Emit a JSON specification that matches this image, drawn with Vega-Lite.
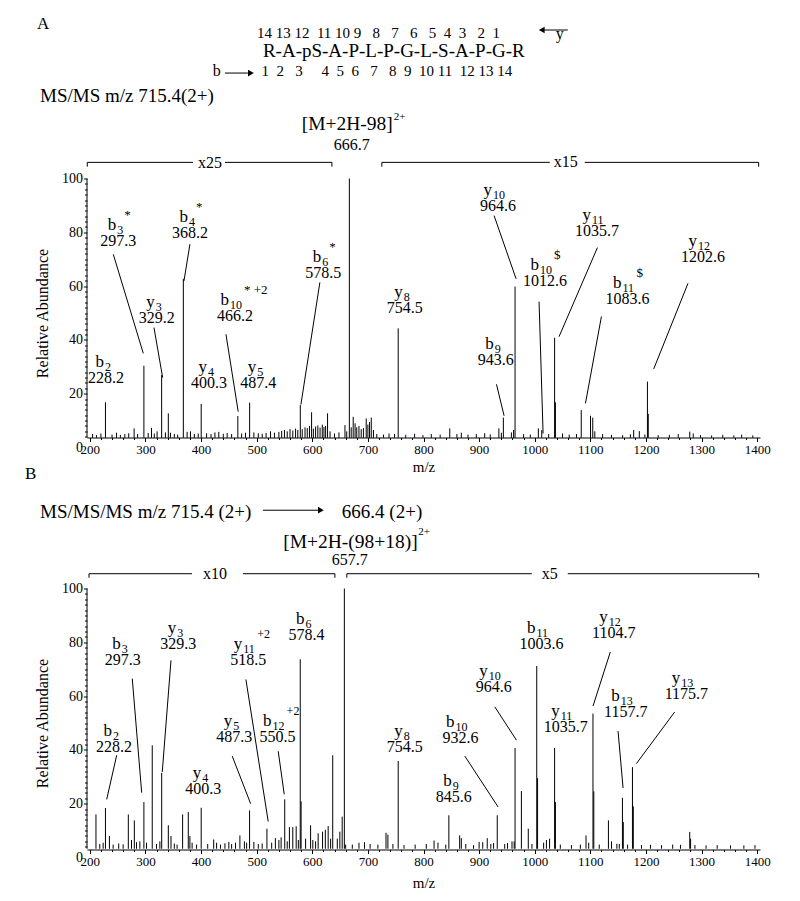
{
"$schema":"https://vega.github.io/schema/vega-lite/v6.json",
"padding":{"left":25,"top":14.5,"right":5,"bottom":5},
"config":{"font":"Liberation Serif","view":{"stroke":null},"mark":{"color":"black"},
"axis":{"grid":false,"domainColor":"black","tickColor":"black","labelColor":"black","titleColor":"black","titleFontWeight":"normal","labelFont":"Liberation Serif","titleFont":"Liberation Serif","domainWidth":1,"tickWidth":1},
"text":{"color":"black"},"rule":{"color":"black"},"point":{"color":"black"}},
"datasets":{
"pkA":[{"mz":228.2,"ab":16.8},{"mz":297.3,"ab":30.4},{"mz":329.2,"ab":26.9},{"mz":341.2,"ab":12.7},{"mz":368.2,"ab":62.7},{"mz":400.3,"ab":16.2},{"mz":466.2,"ab":11.7},{"mz":487.4,"ab":16.7},{"mz":578.5,"ab":15.8},{"mz":598.8,"ab":13.1},{"mz":627.5,"ab":12.7},{"mz":658.8,"ab":8.3},{"mz":666.7,"ab":100},{"mz":673.6,"ab":11.4},{"mz":697,"ab":10.8},{"mz":706.1,"ab":11.1},{"mz":279.7,"ab":7.1},{"mz":311,"ab":7.3},{"mz":754.5,"ab":44.3},{"mz":943.6,"ab":11.1},{"mz":935.5,"ab":7.1},{"mz":964.6,"ab":59.8},{"mz":1006.5,"ab":7.1},{"mz":1012.6,"ab":6.5},{"mz":1035.7,"ab":40.8},{"mz":1037.2,"ab":16.8},{"mz":1083.6,"ab":13.9},{"mz":1100.3,"ab":11.8},{"mz":1104.3,"ab":11.1},{"mz":1202.6,"ab":24.5},{"mz":1204.1,"ab":12.5},{"mz":1177.9,"ab":6.5},{"mz":1188,"ab":6.1},{"mz":847.2,"ab":7.1},{"mz":1278.7,"ab":5.9},
{"mz":205,"ab":5.0},{"mz":212,"ab":4.6},{"mz":220,"ab":5.2},{"mz":240,"ab":4.8},{"mz":248,"ab":5.5},{"mz":255,"ab":4.7},{"mz":263,"ab":5.0},{"mz":270,"ab":5.3},{"mz":286,"ab":5.0},{"mz":305,"ab":5.4},{"mz":316,"ab":5.2},{"mz":321,"ab":6.0},{"mz":336,"ab":5.6},{"mz":345,"ab":5.5},{"mz":352,"ab":5.0},{"mz":358,"ab":4.8},{"mz":375,"ab":5.8},{"mz":381,"ab":6.0},{"mz":388,"ab":5.0},{"mz":395,"ab":5.2},{"mz":410,"ab":5.3},{"mz":418,"ab":5.0},{"mz":425,"ab":5.6},{"mz":432,"ab":5.8},{"mz":440,"ab":5.1},{"mz":447,"ab":5.4},{"mz":455,"ab":5.0},{"mz":473,"ab":5.2},{"mz":480,"ab":5.5},{"mz":495,"ab":5.6},{"mz":503,"ab":5.3},{"mz":510,"ab":5.1},{"mz":517,"ab":5.4},{"mz":525,"ab":6.0},{"mz":532,"ab":5.5},{"mz":540,"ab":5.8},{"mz":545,"ab":6.2},{"mz":550,"ab":6.5},{"mz":555,"ab":6.0},{"mz":560,"ab":6.8},{"mz":565,"ab":6.3},{"mz":570,"ab":7.0},{"mz":574,"ab":6.5},{"mz":582,"ab":6.8},{"mz":587,"ab":7.5},{"mz":591,"ab":7.2},{"mz":595,"ab":8.0},{"mz":602,"ab":7.0},{"mz":606,"ab":7.8},{"mz":610,"ab":8.2},{"mz":614,"ab":7.4},{"mz":618,"ab":8.5},{"mz":621,"ab":7.6},{"mz":624,"ab":8.0},{"mz":632,"ab":6.0},{"mz":640,"ab":5.2},{"mz":648,"ab":5.6},{"mz":662,"ab":6.0},{"mz":670,"ab":7.5},{"mz":677,"ab":9.0},{"mz":680,"ab":7.5},{"mz":684,"ab":8.0},{"mz":688,"ab":6.8},{"mz":692,"ab":7.2},{"mz":700,"ab":8.5},{"mz":703,"ab":9.5},{"mz":710,"ab":6.5},{"mz":716,"ab":5.0},{"mz":728,"ab":4.8},{"mz":738,"ab":5.2},{"mz":748,"ab":5.0},{"mz":768,"ab":4.7},{"mz":784,"ab":5.1},{"mz":799,"ab":4.6},{"mz":814,"ab":5.0},{"mz":830,"ab":4.8},{"mz":860,"ab":5.0},{"mz":868,"ab":5.5},{"mz":880,"ab":4.8},{"mz":895,"ab":5.0},{"mz":910,"ab":5.3},{"mz":920,"ab":4.9},{"mz":940,"ab":5.5},{"mz":958,"ab":5.6},{"mz":962,"ab":6.5},{"mz":980,"ab":5.0},{"mz":992,"ab":4.8},{"mz":1025,"ab":5.0},{"mz":1050,"ab":5.2},{"mz":1062,"ab":4.8},{"mz":1075,"ab":5.0},{"mz":1108,"ab":6.0},{"mz":1122,"ab":5.0},{"mz":1138,"ab":4.7},{"mz":1158,"ab":4.6},{"mz":1172,"ab":4.9},{"mz":1198,"ab":4.8},{"mz":1222,"ab":4.6},{"mz":1242,"ab":4.7},{"mz":1258,"ab":5.0},{"mz":1285,"ab":5.2},{"mz":1298,"ab":4.6},{"mz":1318,"ab":4.5},{"mz":1338,"ab":4.7},{"mz":1358,"ab":4.5},{"mz":1372,"ab":4.8},{"mz":1392,"ab":4.5}],
"pkB":[{"mz":211.1,"ab":16.0},{"mz":228.2,"ab":18.4},{"mz":235.3,"ab":8.0},{"mz":269.3,"ab":16.0},{"mz":280.1,"ab":13.8},{"mz":284,"ab":5.7},{"mz":297.3,"ab":20.6},{"mz":312.3,"ab":41.7},{"mz":329.3,"ab":31.5},{"mz":341.2,"ab":12.0},{"mz":346,"ab":8.0},{"mz":366.9,"ab":16.0},{"mz":377.1,"ab":16.9},{"mz":380,"ab":8.0},{"mz":400.3,"ab":18.5},{"mz":422.8,"ab":6.7},{"mz":469.9,"ab":8.2},{"mz":487.3,"ab":17.5},{"mz":518.5,"ab":10.7},{"mz":533.7,"ab":7.2},{"mz":550.5,"ab":21.6},{"mz":558.9,"ab":11.3},{"mz":565,"ab":11.3},{"mz":571.1,"ab":11.6},{"mz":578.4,"ab":73.7},{"mz":579.9,"ab":20.9},{"mz":597,"ab":12.0},{"mz":610.6,"ab":9.0},{"mz":618.5,"ab":9.6},{"mz":623.5,"ab":10.3},{"mz":628.6,"ab":11.7},{"mz":636.8,"ab":38.0},{"mz":649.6,"ab":9.6},{"mz":653.8,"ab":15.2},{"mz":657.7,"ab":100},{"mz":694,"ab":5.7},{"mz":732.6,"ab":9.2},{"mz":736,"ab":8.5},{"mz":754.5,"ab":35.9},{"mz":819,"ab":6.3},{"mz":845.6,"ab":15.7},{"mz":865,"ab":8.2},{"mz":868,"ab":7.2},{"mz":906.5,"ab":5.7},{"mz":914.6,"ab":7.2},{"mz":932.6,"ab":15.7},{"mz":951.1,"ab":5.4},{"mz":959.1,"ab":6.0},{"mz":964.6,"ab":40.7},{"mz":976,"ab":24.7},{"mz":988.4,"ab":10.7},{"mz":1003.6,"ab":71.2},{"mz":1005.1,"ab":29.5},{"mz":1026.7,"ab":7.0},{"mz":1035.7,"ab":40.7},{"mz":1037.2,"ab":20.6},{"mz":1092.2,"ab":8.2},{"mz":1104.7,"ab":53.5},{"mz":1106.2,"ab":24.6},{"mz":1132.5,"ab":13.8},{"mz":1147.7,"ab":5.1},{"mz":1157.7,"ab":22.2},{"mz":1159.2,"ab":13.2},{"mz":1175.7,"ab":33.6},{"mz":1177.2,"ab":19.0},{"mz":1278.7,"ab":9.5},{"mz":1280.2,"ab":7.0},
{"mz":218,"ab":5.0},{"mz":224,"ab":5.5},{"mz":242,"ab":4.8},{"mz":252,"ab":5.2},{"mz":260,"ab":4.9},{"mz":275,"ab":6.5},{"mz":290,"ab":6.0},{"mz":302,"ab":5.5},{"mz":320,"ab":5.0},{"mz":326,"ab":6.0},{"mz":352,"ab":5.2},{"mz":357,"ab":4.8},{"mz":384,"ab":5.5},{"mz":392,"ab":4.8},{"mz":412,"ab":5.0},{"mz":428,"ab":5.5},{"mz":435,"ab":4.8},{"mz":443,"ab":5.3},{"mz":450,"ab":5.8},{"mz":455,"ab":5.0},{"mz":462,"ab":5.5},{"mz":478,"ab":6.0},{"mz":482,"ab":5.5},{"mz":495,"ab":5.8},{"mz":503,"ab":5.0},{"mz":510,"ab":5.2},{"mz":527,"ab":5.5},{"mz":540,"ab":6.5},{"mz":544,"ab":7.5},{"mz":555,"ab":6.0},{"mz":575,"ab":6.5},{"mz":588,"ab":7.0},{"mz":601,"ab":6.5},{"mz":606,"ab":6.0},{"mz":633,"ab":7.0},{"mz":645,"ab":7.0},{"mz":660,"ab":4.8},{"mz":672,"ab":4.8},{"mz":684,"ab":5.5},{"mz":704,"ab":5.0},{"mz":718,"ab":4.8},{"mz":745,"ab":5.0},{"mz":765,"ab":4.6},{"mz":785,"ab":4.8},{"mz":805,"ab":5.0},{"mz":826,"ab":5.5},{"mz":840,"ab":4.8},{"mz":876,"ab":5.0},{"mz":890,"ab":4.6},{"mz":900,"ab":5.8},{"mz":921,"ab":5.0},{"mz":926,"ab":5.4},{"mz":946,"ab":5.0},{"mz":963,"ab":6.0},{"mz":995,"ab":5.0},{"mz":1016,"ab":5.5},{"mz":1021,"ab":6.5},{"mz":1046,"ab":4.8},{"mz":1066,"ab":4.6},{"mz":1082,"ab":4.8},{"mz":1097,"ab":5.5},{"mz":1116,"ab":4.8},{"mz":1138,"ab":6.0},{"mz":1152,"ab":5.0},{"mz":1167,"ab":4.8},{"mz":1192,"ab":4.6},{"mz":1208,"ab":4.7},{"mz":1228,"ab":4.6},{"mz":1248,"ab":4.8},{"mz":1262,"ab":4.7},{"mz":1288,"ab":4.6},{"mz":1308,"ab":4.5},{"mz":1328,"ab":4.6},{"mz":1352,"ab":4.5},{"mz":1376,"ab":4.5},{"mz":1396,"ab":4.6}],
"lbA":[{"lx":229.1,"ly":25.7,"n":"b","s":"2","p":"","v":"228.2"},{"lx":251.2,"ly":76.8,"n":"b","s":"3","p":"*","v":"297.3"},{"lx":320.3,"ly":48.0,"n":"y","s":"3","p":"","v":"329.2"},{"lx":380.1,"ly":79.9,"n":"b","s":"4","p":"*","v":"368.2"},{"lx":414.2,"ly":23.8,"n":"y","s":"4","p":"","v":"400.3"},{"lx":461.0,"ly":48.7,"n":"b","s":"10","p":"* +2","v":"466.2"},{"lx":502.8,"ly":23.8,"n":"y","s":"5","p":"","v":"487.4"},{"lx":619.6,"ly":64.8,"n":"b","s":"6","p":"*","v":"578.5"},{"lx":766.4,"ly":51.7,"n":"y","s":"8","p":"","v":"754.5"},{"lx":930.0,"ly":32.5,"n":"b","s":"9","p":"","v":"943.6"},{"lx":934.1,"ly":89.8,"n":"y","s":"10","p":"","v":"964.6"},{"lx":1018.6,"ly":61.9,"n":"b","s":"10","p":"$","v":"1012.6"},{"lx":1112.0,"ly":80.3,"n":"y","s":"11","p":"","v":"1035.7"},{"lx":1166.6,"ly":55.1,"n":"b","s":"11","p":"$","v":"1083.6"},{"lx":1302.5,"ly":71.0,"n":"y","s":"12","p":"","v":"1202.6"}],
"lbB":[{"lx":243.5,"ly":41.1,"n":"b","s":"2","p":"","v":"228.2"},{"lx":259.2,"ly":73.3,"n":"b","s":"3","p":"","v":"297.3"},{"lx":359.1,"ly":79.5,"n":"y","s":"3","p":"","v":"329.3"},{"lx":404.0,"ly":25.6,"n":"y","s":"4","p":"","v":"400.3"},{"lx":459.7,"ly":44.8,"n":"y","s":"5","p":"","v":"487.3"},{"lx":484.9,"ly":73.3,"n":"y","s":"11","p":"+2","v":"518.5"},{"lx":537.7,"ly":44.8,"n":"b","s":"12","p":"+2","v":"550.5"},{"lx":589.8,"ly":82.6,"n":"b","s":"6","p":"","v":"578.4"},{"lx":766.4,"ly":41.1,"n":"y","s":"8","p":"","v":"754.5"},{"lx":854.5,"ly":22.4,"n":"b","s":"9","p":"","v":"845.6"},{"lx":866.5,"ly":44.4,"n":"b","s":"10","p":"","v":"932.6"},{"lx":926.4,"ly":63.4,"n":"y","s":"10","p":"","v":"964.6"},{"lx":1012.1,"ly":79.5,"n":"b","s":"11","p":"","v":"1003.6"},{"lx":1055.8,"ly":48.5,"n":"y","s":"11","p":"","v":"1035.7"},{"lx":1142.0,"ly":83.3,"n":"y","s":"12","p":"","v":"1104.7"},{"lx":1163.6,"ly":54.1,"n":"b","s":"13","p":"","v":"1157.7"},{"lx":1272.6,"ly":60.9,"n":"y","s":"13","p":"","v":"1175.7"}],
"sgA":[{"x":195.5,"y":106,"x2":385.5,"y2":106},{"x":443,"y":106,"x2":635.3,"y2":106},{"x":725.1,"y":106,"x2":1027,"y2":106},{"x":1089.9,"y":106,"x2":1402.6,"y2":106},{"x":195.5,"y":106,"x2":195.5,"y2":104.4},{"x":635.3,"y":106,"x2":635.3,"y2":104.4},{"x":725.1,"y":106,"x2":725.1,"y2":104.4},{"x":1402.6,"y":106,"x2":1402.6,"y2":104.4},{"x":1012.6,"y":155.2,"x2":1059.4,"y2":155.2},{"x":443,"y":139.2,"x2":484.3,"y2":139.2},
{"x":242.3,"y":71.8,"x2":296.2,"y2":35.0},{"x":315.4,"y":44.6,"x2":331.0,"y2":26.0},{"x":380.1,"y":75.6,"x2":369.3,"y2":61.9},{"x":444.8,"y":42.1,"x2":466.9,"y2":13.3},{"x":613.7,"y":61.4,"x2":579.6,"y2":16.0},{"x":931.2,"y":23.5,"x2":944.9,"y2":11.8},{"x":926.9,"y":86.2,"x2":966.5,"y2":62.7},{"x":1007.8,"y":54.2,"x2":1015.0,"y2":5.2},{"x":1112.7,"y":74.3,"x2":1043.7,"y2":41.2},{"x":1119.9,"y":48.7,"x2":1091.2,"y2":16.4},{"x":1275.5,"y":61.0,"x2":1213.9,"y2":29.2}],
"sgB":[{"x":198.6,"y":105.5,"x2":383.7,"y2":105.5},{"x":475.3,"y":105.5,"x2":640.7,"y2":105.5},{"x":662.2,"y":105.5,"x2":994.7,"y2":105.5},{"x":1059.4,"y":105.5,"x2":1402.6,"y2":105.5},{"x":198.6,"y":105.5,"x2":198.6,"y2":104},{"x":640.7,"y":105.5,"x2":640.7,"y2":104},{"x":662.2,"y":105.5,"x2":662.2,"y2":104},{"x":1402.6,"y":105.5,"x2":1402.6,"y2":104},{"x":511.3,"y":129.1,"x2":611.9,"y2":129.1},
{"x":248.4,"y":38.0,"x2":230.4,"y2":21.6},{"x":276.4,"y":66.5,"x2":293.3,"y2":24.1},{"x":346.0,"y":73.3,"x2":330.3,"y2":31.8},{"x":456.1,"y":37.7,"x2":489.2,"y2":20.0},{"x":480.7,"y":66.2,"x2":520.8,"y2":13.4},{"x":538.8,"y":39.5,"x2":549.6,"y2":23.5},{"x":874.3,"y":37.7,"x2":934.1,"y2":18.8},{"x":928.2,"y":56.0,"x2":967.2,"y2":43.6},{"x":1135.9,"y":76.4,"x2":1104.8,"y2":56.3},{"x":1149.8,"y":47.0,"x2":1158.8,"y2":25.8},{"x":1251.6,"y":54.1,"x2":1182.8,"y2":34.9}],
"arA":[{"x":1012.6,"y":155.2,"d":"left"},{"x":489.7,"y":139.2,"d":"right"}],
"arB":[{"x":615.5,"y":129.1,"d":"right"}],
"txA":[{"x":105.2,"y":157.3,"t":"A","k":"panel"},{"x":500.5,"y":154.0,"t":"14 13 12\u00a0\u00a011 10 9\u00a0\u00a0\u00a08\u00a0\u00a0\u00a07\u00a0\u00a0\u00a06\u00a0\u00a0\u00a05\u00a0\u00a04\u00a0\u00a03\u00a0\u00a0\u00a02\u00a0\u00a01","k":"num"},{"x":1045,"y":153.8,"t":"y","k":"mid"},{"x":511.3,"y":147.3,"t":"R-A-pS-A-P-L-P-G-L-S-A-P-G-R","k":"big"},{"x":428.1,"y":139.9,"t":"b","k":"mid"},{"x":508.9,"y":139.9,"t":"1\u00a0\u00a02\u00a0\u00a0\u00a03\u00a0\u00a0\u00a0\u00a0\u00a04\u00a0\u00a05\u00a0\u00a06\u00a0\u00a0\u00a07\u00a0\u00a0\u00a08\u00a0\u00a09\u00a0\u00a010 11\u00a0\u00a012 13 14","k":"num"},{"x":110.5,"y":130.5,"t":"MS/MS m/z 715.4(2+)","k":"big"},{"x":744.9,"y":120.1,"t":"[M+2H-98]","k":"ion"},{"x":746.7,"y":122.7,"t":"2+","k":"sup"},{"x":671.2,"y":112.6,"t":"666.7","k":"mid"},{"x":416,"y":105.6,"t":"x25","k":"mid"},{"x":1055.8,"y":106.3,"t":"x15","k":"mid"}],
"txB":[{"x":83.6,"y":142.7,"t":"B","k":"panel"},{"x":110.5,"y":128.5,"t":"MS/MS/MS m/z 715.4 (2+)","k":"big"},{"x":653.2,"y":128.5,"t":"666.4 (2+)","k":"big"},{"x":789.8,"y":117.4,"t":"[M+2H-(98+18)]","k":"ion"},{"x":790.7,"y":121.1,"t":"2+","k":"sup"},{"x":667.6,"y":110.7,"t":"657.7","k":"mid"},{"x":425,"y":105.5,"t":"x10","k":"mid"},{"x":1027,"y":105.5,"t":"x5","k":"mid"}]
},
"spacing":141,
"bounds":"flush",
"vconcat":[
{"width":673,"height":269,"layer":[
{"data":{"name":"pkA"},"mark":{"type":"rule","strokeWidth":1,"color":"black"},"encoding":{
"x":{"field":"mz","type":"quantitative","scale":{"domain":[195,1405],"nice":false,"zero":false},"axis":{"title":"m/z","tickCount":500,"values":[200,220,240,260,280,300,320,340,360,380,400,420,440,460,480,500,520,540,560,580,600,620,640,660,680,700,720,740,760,780,800,820,840,860,880,900,920,940,960,980,1000,1020,1040,1060,1080,1100,1120,1140,1160,1180,1200,1220,1240,1260,1280,1300,1320,1340,1360,1380,1400],"format":"d","labelExpr":"datum.value % 100 == 0 ? datum.label : ''","tickSize":{"condition":{"test":"datum.value % 100 == 0","value":4},"value":2},"offset":-10,"labelFontSize":13,"titleFontSize":15,"labelPadding":2,"titlePadding":3,"labelFlush":false,"labelOverlap":false}},
"y":{"field":"ab","type":"quantitative","scale":{"domain":[0,100],"nice":false,"zero":true},"axis":{"title":"Relative Abundance","tickCount":500,"values":[0,4,6,8,10,12,14,16,18,20,22,24,26,28,30,32,34,36,38,40,42,44,46,48,50,52,54,56,58,60,62,64,66,68,70,72,74,76,78,80,82,84,86,88,90,92,94,96,98,100],"format":"d","labelExpr":"datum.value % 20 == 0 ? datum.label : ''","tickSize":{"condition":{"test":"datum.value % 20 == 0","value":3.5},"value":2.5},"tickOpacity":{"condition":{"test":"datum.value == 0","value":0},"value":1},"domain":false,"labelFontSize":14,"titleFontSize":16,"labelPadding":1,"titlePadding":11,"labelOverlap":false}},
"y2":{"datum":3.6}}},
{"data":{"values":[{}]},"mark":{"type":"rule","strokeWidth":1,"color":"black"},"encoding":{"x":{"datum":195,"type":"quantitative"},"y":{"datum":3.6,"type":"quantitative"},"y2":{"datum":100}}},
{"data":{"name":"sgA"},"mark":{"type":"rule","strokeWidth":1,"color":"black"},"encoding":{"x":{"field":"x","type":"quantitative"},"y":{"field":"y","type":"quantitative"},"x2":{"field":"x2"},"y2":{"field":"y2"}}},
{"data":{"name":"arA"},"mark":{"type":"point","filled":true,"size":45,"opacity":1,"color":"black"},"encoding":{"x":{"field":"x","type":"quantitative"},"y":{"field":"y","type":"quantitative"},"shape":{"field":"d","type":"nominal","scale":{"domain":["left","right"],"range":["triangle-left","triangle-right"]},"legend":null}}},
{"data":{"name":"lbA"},"mark":{"type":"text","fontSize":16,"align":"center","baseline":"middle","color":"black"},"encoding":{"x":{"field":"lx","type":"quantitative"},"y":{"field":"ly","type":"quantitative"},"text":{"field":"v"}}},
{"data":{"name":"lbA"},"transform":[{"filter":"length(datum.s) == 1"}],"mark":{"type":"text","fontSize":17,"align":"right","baseline":"alphabetic","dx":-2,"dy":-11,"color":"black"},"encoding":{"x":{"field":"lx","type":"quantitative"},"y":{"field":"ly","type":"quantitative"},"text":{"field":"n"}}},
{"data":{"name":"lbA"},"transform":[{"filter":"length(datum.s) == 1"}],"mark":{"type":"text","fontSize":12,"align":"left","baseline":"alphabetic","dx":-1,"dy":-7,"color":"black"},"encoding":{"x":{"field":"lx","type":"quantitative"},"y":{"field":"ly","type":"quantitative"},"text":{"field":"s"}}},
{"data":{"name":"lbA"},"transform":[{"filter":"length(datum.s) == 1"}],"mark":{"type":"text","fontSize":13,"align":"left","baseline":"alphabetic","dx":6,"dy":-22,"color":"black"},"encoding":{"x":{"field":"lx","type":"quantitative"},"y":{"field":"ly","type":"quantitative"},"text":{"field":"p"}}},
{"data":{"name":"lbA"},"transform":[{"filter":"length(datum.s) == 2"}],"mark":{"type":"text","fontSize":17,"align":"right","baseline":"alphabetic","dx":-6,"dy":-11,"color":"black"},"encoding":{"x":{"field":"lx","type":"quantitative"},"y":{"field":"ly","type":"quantitative"},"text":{"field":"n"}}},
{"data":{"name":"lbA"},"transform":[{"filter":"length(datum.s) == 2"}],"mark":{"type":"text","fontSize":12,"align":"left","baseline":"alphabetic","dx":-5,"dy":-7,"color":"black"},"encoding":{"x":{"field":"lx","type":"quantitative"},"y":{"field":"ly","type":"quantitative"},"text":{"field":"s"}}},
{"data":{"name":"lbA"},"transform":[{"filter":"length(datum.s) == 2"}],"mark":{"type":"text","fontSize":13,"align":"left","baseline":"alphabetic","dx":9,"dy":-22,"color":"black"},"encoding":{"x":{"field":"lx","type":"quantitative"},"y":{"field":"ly","type":"quantitative"},"text":{"field":"p"}}},
{"data":{"name":"txA"},"transform":[{"filter":"datum.k == 'big'"}],"mark":{"type":"text","fontSize":19,"align":"left","baseline":"middle","color":"black"},"encoding":{"x":{"field":"x","type":"quantitative"},"y":{"field":"y","type":"quantitative"},"text":{"field":"t"}}},
{"data":{"name":"txA"},"transform":[{"filter":"datum.k == 'ion'"}],"mark":{"type":"text","fontSize":19.5,"align":"right","baseline":"middle","color":"black"},"encoding":{"x":{"field":"x","type":"quantitative"},"y":{"field":"y","type":"quantitative"},"text":{"field":"t"}}},
{"data":{"name":"txA"},"transform":[{"filter":"datum.k == 'sup'"}],"mark":{"type":"text","fontSize":11,"align":"left","baseline":"middle","color":"black"},"encoding":{"x":{"field":"x","type":"quantitative"},"y":{"field":"y","type":"quantitative"},"text":{"field":"t"}}},
{"data":{"name":"txA"},"transform":[{"filter":"datum.k == 'panel'"}],"mark":{"type":"text","fontSize":17,"align":"left","baseline":"middle","color":"black"},"encoding":{"x":{"field":"x","type":"quantitative"},"y":{"field":"y","type":"quantitative"},"text":{"field":"t"}}},
{"data":{"name":"txA"},"transform":[{"filter":"datum.k == 'num'"}],"mark":{"type":"text","fontSize":15,"align":"left","baseline":"middle","color":"black"},"encoding":{"x":{"field":"x","type":"quantitative"},"y":{"field":"y","type":"quantitative"},"text":{"field":"t"}}},
{"data":{"name":"txA"},"transform":[{"filter":"datum.k == 'mid'"}],"mark":{"type":"text","fontSize":16,"align":"center","baseline":"middle","color":"black"},"encoding":{"x":{"field":"x","type":"quantitative"},"y":{"field":"y","type":"quantitative"},"text":{"field":"t"}}}
]},
{"width":673,"height":269,"layer":[
{"data":{"name":"pkB"},"mark":{"type":"rule","strokeWidth":1,"color":"black"},"encoding":{
"x":{"field":"mz","type":"quantitative","scale":{"domain":[195,1405],"nice":false,"zero":false},"axis":{"title":"m/z","tickCount":500,"values":[200,220,240,260,280,300,320,340,360,380,400,420,440,460,480,500,520,540,560,580,600,620,640,660,680,700,720,740,760,780,800,820,840,860,880,900,920,940,960,980,1000,1020,1040,1060,1080,1100,1120,1140,1160,1180,1200,1220,1240,1260,1280,1300,1320,1340,1360,1380,1400],"format":"d","labelExpr":"datum.value % 100 == 0 ? datum.label : ''","tickSize":{"condition":{"test":"datum.value % 100 == 0","value":4},"value":2},"offset":-8,"labelFontSize":13,"titleFontSize":15,"labelPadding":2,"titlePadding":7,"labelFlush":false,"labelOverlap":false}},
"y":{"field":"ab","type":"quantitative","scale":{"domain":[0,100],"nice":false,"zero":true},"axis":{"title":"Relative Abundance","tickCount":500,"values":[0,4,6,8,10,12,14,16,18,20,22,24,26,28,30,32,34,36,38,40,42,44,46,48,50,52,54,56,58,60,62,64,66,68,70,72,74,76,78,80,82,84,86,88,90,92,94,96,98,100],"format":"d","labelExpr":"datum.value % 20 == 0 ? datum.label : ''","tickSize":{"condition":{"test":"datum.value % 20 == 0","value":3.5},"value":2.5},"tickOpacity":{"condition":{"test":"datum.value == 0","value":0},"value":1},"domain":false,"labelFontSize":14,"titleFontSize":16,"labelPadding":1,"titlePadding":11,"labelOverlap":false}},
"y2":{"datum":3.25}}},
{"data":{"values":[{}]},"mark":{"type":"rule","strokeWidth":1,"color":"black"},"encoding":{"x":{"datum":195,"type":"quantitative"},"y":{"datum":3.25,"type":"quantitative"},"y2":{"datum":100}}},
{"data":{"name":"sgB"},"mark":{"type":"rule","strokeWidth":1,"color":"black"},"encoding":{"x":{"field":"x","type":"quantitative"},"y":{"field":"y","type":"quantitative"},"x2":{"field":"x2"},"y2":{"field":"y2"}}},
{"data":{"name":"arB"},"mark":{"type":"point","filled":true,"size":45,"opacity":1,"color":"black"},"encoding":{"x":{"field":"x","type":"quantitative"},"y":{"field":"y","type":"quantitative"},"shape":{"field":"d","type":"nominal","scale":{"domain":["left","right"],"range":["triangle-left","triangle-right"]},"legend":null}}},
{"data":{"name":"lbB"},"mark":{"type":"text","fontSize":16,"align":"center","baseline":"middle","color":"black"},"encoding":{"x":{"field":"lx","type":"quantitative"},"y":{"field":"ly","type":"quantitative"},"text":{"field":"v"}}},
{"data":{"name":"lbB"},"transform":[{"filter":"length(datum.s) == 1"}],"mark":{"type":"text","fontSize":17,"align":"right","baseline":"alphabetic","dx":-2,"dy":-11,"color":"black"},"encoding":{"x":{"field":"lx","type":"quantitative"},"y":{"field":"ly","type":"quantitative"},"text":{"field":"n"}}},
{"data":{"name":"lbB"},"transform":[{"filter":"length(datum.s) == 1"}],"mark":{"type":"text","fontSize":12,"align":"left","baseline":"alphabetic","dx":-1,"dy":-7,"color":"black"},"encoding":{"x":{"field":"lx","type":"quantitative"},"y":{"field":"ly","type":"quantitative"},"text":{"field":"s"}}},
{"data":{"name":"lbB"},"transform":[{"filter":"length(datum.s) == 2"}],"mark":{"type":"text","fontSize":17,"align":"right","baseline":"alphabetic","dx":-6,"dy":-11,"color":"black"},"encoding":{"x":{"field":"lx","type":"quantitative"},"y":{"field":"ly","type":"quantitative"},"text":{"field":"n"}}},
{"data":{"name":"lbB"},"transform":[{"filter":"length(datum.s) == 2"}],"mark":{"type":"text","fontSize":12,"align":"left","baseline":"alphabetic","dx":-5,"dy":-7,"color":"black"},"encoding":{"x":{"field":"lx","type":"quantitative"},"y":{"field":"ly","type":"quantitative"},"text":{"field":"s"}}},
{"data":{"name":"lbB"},"transform":[{"filter":"length(datum.s) == 2"}],"mark":{"type":"text","fontSize":12,"align":"left","baseline":"alphabetic","dx":9,"dy":-22,"color":"black"},"encoding":{"x":{"field":"lx","type":"quantitative"},"y":{"field":"ly","type":"quantitative"},"text":{"field":"p"}}},
{"data":{"name":"txB"},"transform":[{"filter":"datum.k == 'big'"}],"mark":{"type":"text","fontSize":19,"align":"left","baseline":"middle","color":"black"},"encoding":{"x":{"field":"x","type":"quantitative"},"y":{"field":"y","type":"quantitative"},"text":{"field":"t"}}},
{"data":{"name":"txB"},"transform":[{"filter":"datum.k == 'ion'"}],"mark":{"type":"text","fontSize":19.5,"align":"right","baseline":"middle","color":"black"},"encoding":{"x":{"field":"x","type":"quantitative"},"y":{"field":"y","type":"quantitative"},"text":{"field":"t"}}},
{"data":{"name":"txB"},"transform":[{"filter":"datum.k == 'sup'"}],"mark":{"type":"text","fontSize":11,"align":"left","baseline":"middle","color":"black"},"encoding":{"x":{"field":"x","type":"quantitative"},"y":{"field":"y","type":"quantitative"},"text":{"field":"t"}}},
{"data":{"name":"txB"},"transform":[{"filter":"datum.k == 'panel'"}],"mark":{"type":"text","fontSize":17,"align":"left","baseline":"middle","color":"black"},"encoding":{"x":{"field":"x","type":"quantitative"},"y":{"field":"y","type":"quantitative"},"text":{"field":"t"}}},
{"data":{"name":"txB"},"transform":[{"filter":"datum.k == 'mid'"}],"mark":{"type":"text","fontSize":16,"align":"center","baseline":"middle","color":"black"},"encoding":{"x":{"field":"x","type":"quantitative"},"y":{"field":"y","type":"quantitative"},"text":{"field":"t"}}}
]}
]
}
